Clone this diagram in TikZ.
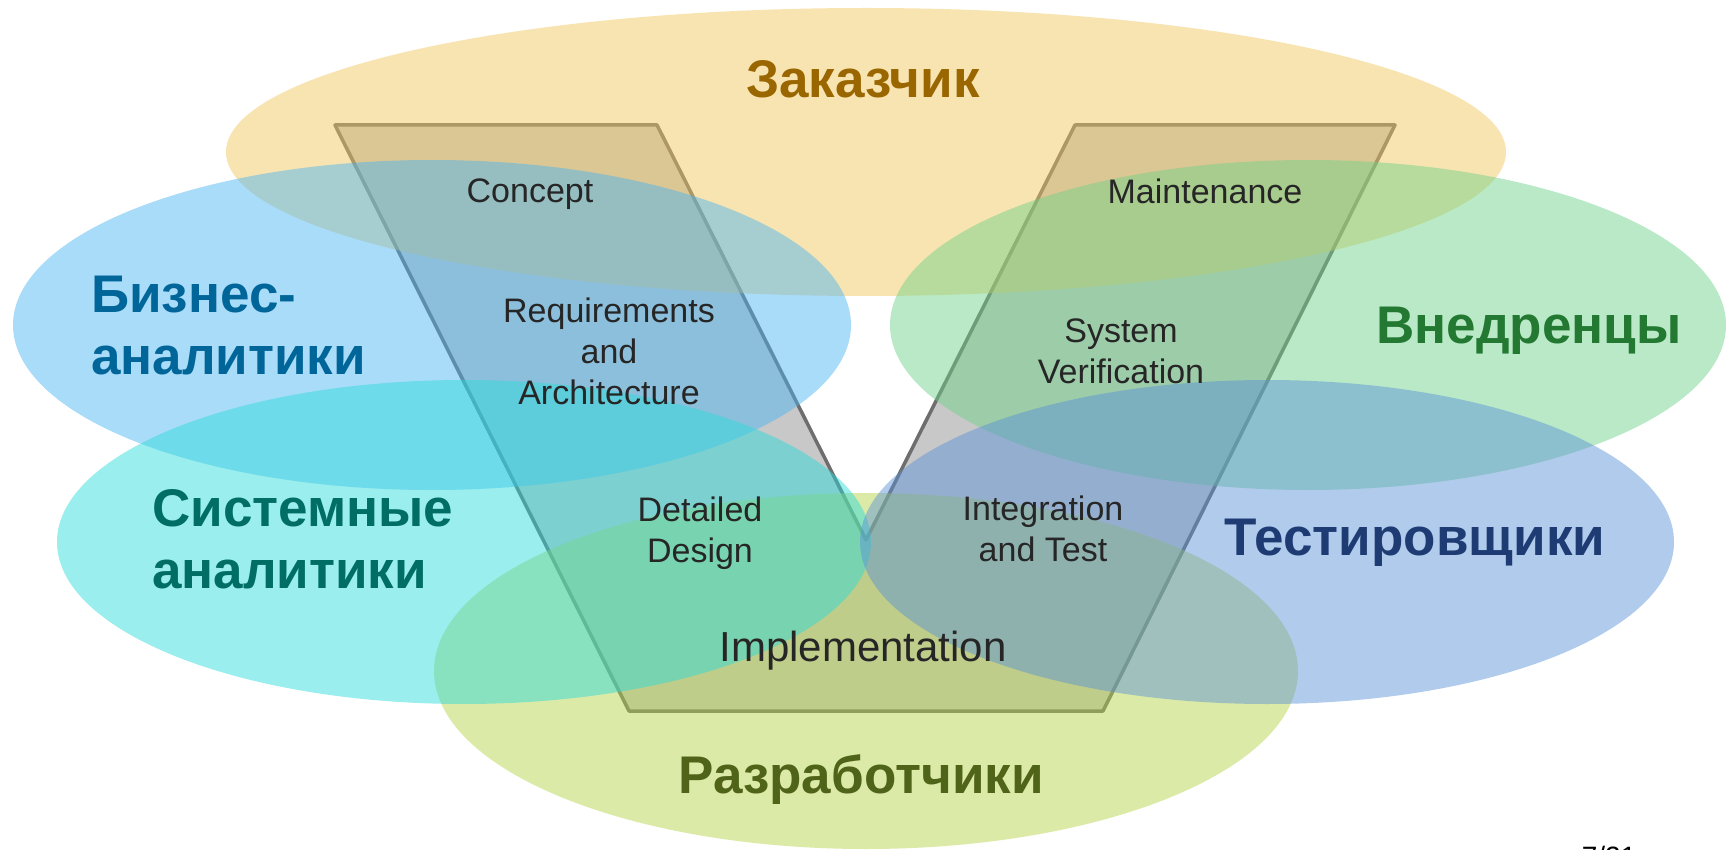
\documentclass[tikz,border=0pt]{standalone}
\usepackage{fontspec}
\setmainfont{Liberation Sans}
\definecolor{cZak}{RGB}{242,198,91}
\definecolor{cBiz}{RGB}{74,181,244}
\definecolor{cVned}{RGB}{110,210,136}
\definecolor{cSys}{RGB}{42,219,219}
\definecolor{cTest}{RGB}{91,146,215}
\definecolor{cRazr}{RGB}{181,212,70}
\definecolor{tZak}{RGB}{153,102,0}
\definecolor{tBiz}{RGB}{0,102,153}
\definecolor{tVned}{RGB}{35,120,50}
\definecolor{tSys}{RGB}{0,110,100}
\definecolor{tTest}{RGB}{30,60,115}
\definecolor{tRazr}{RGB}{80,100,25}
\definecolor{vfill}{RGB}{200,200,200}
\definecolor{vedge}{RGB}{110,110,110}
\definecolor{small}{RGB}{38,38,38}
\tikzset{
  blob/.style={fill opacity=0.47},
  vshape/.style={fill=vfill, draw=vedge, line width=3.5pt, line join=round},
  biglabel/.style={font=\fontsize{53}{62}\selectfont\bfseries, inner sep=0pt},
  stage/.style={font=\fontsize{34}{41}\selectfont, text=small, align=center, inner sep=0pt},
}
\begin{document}
\begin{tikzpicture}[x=1pt,y=-1pt]
\useasboundingbox (0,0) rectangle (1729,850);
\fill[white] (0,0) rectangle (1729,850);
% V shape (underneath)
\draw[vshape] (335,125) -- (657,125) -- (866,540) -- (1075,125) -- (1395,125) -- (1103,711) -- (629,711) -- cycle;
% ellipses
\fill[cZak, blob] (866,152) ellipse [x radius=640pt, y radius=144pt];
\fill[cRazr, blob] (866,671) ellipse [x radius=432pt, y radius=178pt];
\fill[cBiz, blob] (432,325) ellipse [x radius=419pt, y radius=165pt];
\fill[cVned, blob] (1308,325) ellipse [x radius=418pt, y radius=165pt];
\fill[cSys, blob] (464,542) ellipse [x radius=407pt, y radius=162pt];
\fill[cTest, blob] (1267,542) ellipse [x radius=407pt, y radius=162pt];
% group labels
\node[biglabel, text=tZak] (zak) at (863,79) {Заказчик};
\node[biglabel, text=tBiz, anchor=west, align=left] (biz) at (91,326) {Бизнес-\\аналитики};
\node[biglabel, text=tVned] (vned) at (1529,331) {Внедренцы};
\node[biglabel, text=tSys, anchor=west, align=left] (sys) at (152,539) {Системные\\аналитики};
\node[biglabel, text=tTest] (test) at (1415,543) {Тестировщики};
\node[biglabel, text=tRazr] (razr) at (861,780) {Разработчики};
% stage labels
\node[stage] (concept) at (530,194) {Concept};
\node[stage] (maint) at (1205,191) {Maintenance};
\node[stage] (req) at (609,351) {Requirements\\and\\Architecture};
\node[stage] (sysver) at (1121,351) {System\\Verification};
\node[stage] (detd) at (700,533) {Detailed\\Design};
\node[stage] (integ) at (1043,529) {Integration\\and Test};
\node[stage, font=\fontsize{42}{50}\selectfont] (impl) at (863,651) {Implementation};
\node[font=\fontsize{28}{34}\selectfont, anchor=north, inner sep=0pt] (page) at (1609,846) {7/21};
\end{tikzpicture}
\end{document}
